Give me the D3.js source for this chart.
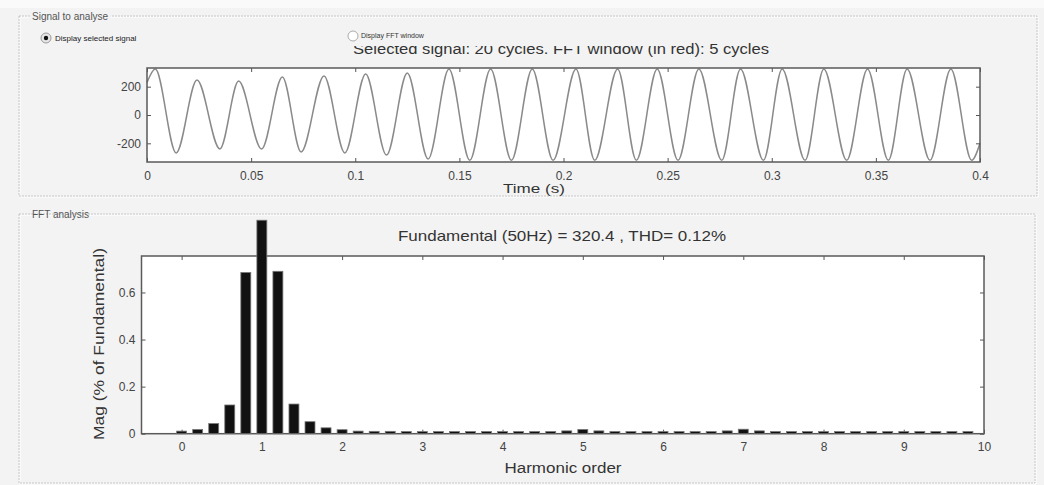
<!DOCTYPE html>
<html lang="en">
<head>
  <meta charset="UTF-8" />
  <title>FFT analysis</title>
  <script src="https://d3js.org/d3.v7.min.js"></script>
  <style>
    body { margin: 0; background: #fafafa; }
    svg { display: block; font-family: "Liberation Sans", Arial, sans-serif; }
    .tick line { stroke: #555; }
    .tick text { fill: #444; font-size: 12px; }
    .domain { display: none; }
  </style>
</head>
<body>
  <div id="chart"></div>

  <script>
    // signal: extremes (time in s, value)
    const signalStart = [0, 230];
    const signalEnd = [0.4, -200];
    const peakTimes = [0.004, 0.024, 0.044, 0.065, 0.085, 0.105, 0.125, 0.145, 0.165, 0.185,
                       0.206, 0.226, 0.245, 0.265, 0.285, 0.305, 0.325, 0.346, 0.365, 0.386];
    const peakValues = [325, 247, 240, 268, 276, 290, 297, 325, 325, 325,
                        325, 325, 325, 325, 325, 325, 325, 325, 325, 325];
    const troughTimes = [0.014, 0.035, 0.055, 0.074, 0.095, 0.115, 0.135, 0.155, 0.175, 0.195,
                         0.215, 0.235, 0.255, 0.276, 0.296, 0.316, 0.336, 0.356, 0.376, 0.396];
    const troughValues = [-268, -240, -240, -261, -268, -283, -311, -320, -320, -320,
                          -320, -320, -320, -320, -320, -320, -320, -320, -320, -320];
    const timeTicks = [0, 0.05, 0.1, 0.15, 0.2, 0.25, 0.3, 0.35, 0.4];
    const signalTicks = [-200, 0, 200];

    // FFT bars
    const harmonicOrders = [0, 0.2, 0.4, 0.6, 0.8, 1, 1.2, 1.4, 1.6, 1.8,
                            2, 2.2, 2.4, 2.6, 2.8, 3, 3.2, 3.4, 3.6, 3.8,
                            4, 4.2, 4.4, 4.6, 4.8, 5, 5.2, 5.4, 5.6, 5.8,
                            6, 6.2, 6.4, 6.6, 6.8, 7, 7.2, 7.4, 7.6, 7.8,
                            8, 8.2, 8.4, 8.6, 8.8, 9, 9.2, 9.4, 9.6, 9.8];
    const magnitudes = [0.011, 0.018, 0.043, 0.122, 0.685, 0.907, 0.69, 0.126, 0.051, 0.025,
                        0.017, 0.011, 0.01, 0.01, 0.009, 0.009, 0.009, 0.009, 0.009, 0.009,
                        0.009, 0.009, 0.009, 0.009, 0.012, 0.018, 0.012, 0.009, 0.009, 0.009,
                        0.009, 0.009, 0.009, 0.009, 0.012, 0.019, 0.012, 0.009, 0.009, 0.009,
                        0.009, 0.009, 0.009, 0.009, 0.009, 0.009, 0.009, 0.009, 0.009, 0.009];
    const orderTicks = [0, 1, 2, 3, 4, 5, 6, 7, 8, 9, 10];
    const magTicks = [0, 0.2, 0.4, 0.6];

    const width = 1044, height = 485;

    const svg = d3.select("#chart").append("svg")
      .attr("width", width)
      .attr("height", height);

    svg.append("rect").attr("x", 0).attr("y", 8).attr("width", width).attr("height", height - 8)
      .attr("fill", "#f3f3f3");

    function panel(x, y, w, h, label) {
      svg.append("rect").attr("x", x + 1).attr("y", y + 1).attr("width", w).attr("height", h)
        .attr("fill", "none").attr("stroke", "#fff");
      svg.append("rect").attr("x", x).attr("y", y).attr("width", w).attr("height", h)
        .attr("fill", "none").attr("stroke", "#c6c6c6").attr("stroke-dasharray", "2,1");
      const t = svg.append("text").attr("x", x + 13).attr("y", y + 4)
        .attr("font-size", 10).attr("fill", "#555").text(label);
      const b = t.node().getBBox();
      svg.insert("rect", "text").attr("x", b.x - 2).attr("y", b.y).attr("width", b.width + 4)
        .attr("height", b.height).attr("fill", "#f3f3f3");
    }
    panel(19, 16, 1018, 180, "Signal to analyse");
    panel(19, 214, 1016, 269, "FFT analysis");

    const plain = d => String(d).replace("0.", "0.");

    // ---- top plot: signal ----
    const x1 = d3.scaleLinear().domain([0, 0.4]).range([147, 980]);
    const y1 = d3.scaleLinear().domain([-332, 332]).range([162, 68]);

    const pts = [signalStart];
    peakTimes.forEach((t, i) => {
      pts.push([t, peakValues[i]]);
      pts.push([troughTimes[i], troughValues[i]]);
    });
    pts.push(signalEnd);

    svg.append("rect").attr("x", x1(0)).attr("y", y1(332))
      .attr("width", x1(0.4) - x1(0)).attr("height", y1(-332) - y1(332)).attr("fill", "#fff");

    svg.append("path")
      .datum(pts)
      .attr("fill", "none")
      .attr("stroke", "#8a8a8a")
      .attr("stroke-width", 1.5)
      .attr("d", d3.line().x(d => x1(d[0])).y(d => y1(d[1])).curve(d3.curveMonotoneX));

    svg.append("g").attr("transform", `translate(0,${y1(-332)})`)
      .call(d3.axisBottom(x1).tickValues(timeTicks).tickFormat(plain).tickSize(-4).tickPadding(9));
    svg.append("g").attr("transform", `translate(0,${y1(332)})`)
      .call(d3.axisTop(x1).tickValues(timeTicks).tickFormat("").tickSize(-4));
    svg.append("g").attr("transform", `translate(${x1(0)},0)`)
      .call(d3.axisLeft(y1).tickValues(signalTicks).tickFormat(plain).tickSize(-4).tickPadding(6));
    svg.append("g").attr("transform", `translate(${x1(0.4)},0)`)
      .call(d3.axisRight(y1).tickValues(signalTicks).tickFormat("").tickSize(-4));

    svg.append("rect").attr("x", x1(0)).attr("y", y1(332))
      .attr("width", x1(0.4) - x1(0)).attr("height", y1(-332) - y1(332))
      .attr("fill", "none").attr("stroke", "#5a5a5a").attr("stroke-width", 1.5);

    svg.append("text").attr("x", 561).attr("y", 54).attr("text-anchor", "middle")
      .attr("font-size", 14).attr("fill", "#333")
      .attr("textLength", 416).attr("lengthAdjust", "spacingAndGlyphs")
      .text("Selected signal: 20 cycles. FFT window (in red): 5 cycles");
    svg.append("text").attr("x", 534).attr("y", 193).attr("text-anchor", "middle")
      .attr("font-size", 13).attr("fill", "#333")
      .attr("textLength", 62).attr("lengthAdjust", "spacingAndGlyphs")
      .text("Time (s)");

    // radio buttons (the second one hides the top of the title)
    svg.append("rect").attr("x", 345).attr("y", 28).attr("width", 330).attr("height", 18)
      .attr("fill", "#f3f3f3");
    svg.append("circle").attr("cx", 46).attr("cy", 38).attr("r", 5)
      .attr("fill", "#e6e6e6").attr("stroke", "#999");
    svg.append("circle").attr("cx", 46).attr("cy", 38).attr("r", 2.2).attr("fill", "#111");
    svg.append("text").attr("x", 55).attr("y", 41).attr("font-size", 8).attr("fill", "#222")
      .text("Display selected signal");
    svg.append("circle").attr("cx", 353).attr("cy", 36).attr("r", 5)
      .attr("fill", "#fff").attr("stroke", "#aaa");
    svg.append("text").attr("x", 361).attr("y", 38).attr("font-size", 7).attr("fill", "#333")
      .text("Display FFT window");

    // ---- bottom plot: FFT ----
    const x2 = d3.scaleLinear().domain([-0.5, 10]).range([141.5, 984]);
    const y2 = d3.scaleLinear().domain([0, 0.755]).range([433.7, 256]);
    const barW = (x2(0.2) - x2(0)) * 0.62;

    svg.append("rect").attr("x", x2(-0.5)).attr("y", y2(0.755))
      .attr("width", x2(10) - x2(-0.5)).attr("height", y2(0) - y2(0.755)).attr("fill", "#fff");

    svg.append("g").attr("transform", `translate(0,${y2(0)})`)
      .call(d3.axisBottom(x2).tickValues(orderTicks).tickSize(-4).tickPadding(9));
    svg.append("g").attr("transform", `translate(0,${y2(0.755)})`)
      .call(d3.axisTop(x2).tickValues(orderTicks).tickFormat("").tickSize(-4));
    svg.append("g").attr("transform", `translate(${x2(-0.5)},0)`)
      .call(d3.axisLeft(y2).tickValues(magTicks).tickFormat(plain).tickSize(-4).tickPadding(6));
    svg.append("g").attr("transform", `translate(${x2(10)},0)`)
      .call(d3.axisRight(y2).tickValues(magTicks).tickFormat("").tickSize(-4));

    svg.append("rect").attr("x", x2(-0.5)).attr("y", y2(0.755))
      .attr("width", x2(10) - x2(-0.5)).attr("height", y2(0) - y2(0.755))
      .attr("fill", "none").attr("stroke", "#5a5a5a").attr("stroke-width", 1.5);

    svg.append("g").selectAll("rect")
      .data(harmonicOrders)
      .join("rect")
      .attr("x", d => x2(d) - barW / 2)
      .attr("y", (d, i) => y2(magnitudes[i]))
      .attr("width", barW)
      .attr("height", (d, i) => y2(0) - y2(magnitudes[i]))
      .attr("fill", "#111")
      .attr("stroke", "#777")
      .attr("stroke-width", 0.8);

    svg.append("text").attr("x", 562).attr("y", 241).attr("text-anchor", "middle")
      .attr("font-size", 15).attr("fill", "#333")
      .attr("textLength", 328).attr("lengthAdjust", "spacingAndGlyphs")
      .text("Fundamental (50Hz) = 320.4 , THD= 0.12%");
    svg.append("text").attr("x", 563).attr("y", 473).attr("text-anchor", "middle")
      .attr("font-size", 14).attr("fill", "#333")
      .attr("textLength", 117).attr("lengthAdjust", "spacingAndGlyphs")
      .text("Harmonic order");
    svg.append("text").attr("transform", "translate(104,344) rotate(-90)").attr("text-anchor", "middle")
      .attr("font-size", 15).attr("fill", "#333")
      .attr("textLength", 192).attr("lengthAdjust", "spacingAndGlyphs")
      .text("Mag (% of Fundamental)");
  </script>
</body>
</html>
